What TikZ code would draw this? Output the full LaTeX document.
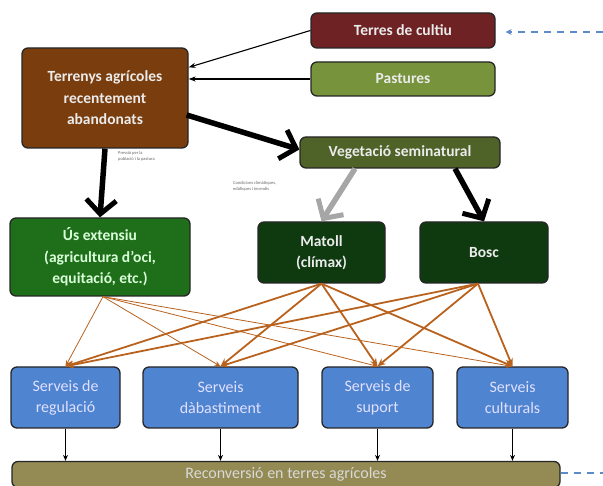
\documentclass[tikz,border=0pt]{standalone}
\usepackage{fontspec}
\setmainfont{Carlito}
\usetikzlibrary{arrows.meta,calc}
\definecolor{cultiu}{HTML}{6E2224}
\definecolor{pastura}{HTML}{77933C}
\definecolor{terreny}{HTML}{7A3E0E}
\definecolor{vegeta}{HTML}{4F6228}
\definecolor{usext}{HTML}{1F6E1A}
\definecolor{fosc}{HTML}{0F3A10}
\definecolor{servei}{HTML}{4F84D0}
\definecolor{recon}{HTML}{948A54}
\definecolor{marro}{HTML}{B8621E}
\definecolor{blaudash}{HTML}{5B8BC9}
\tikzset{
  box/.style={draw=black!85, line width=1.3pt, rounded corners=6pt, inner sep=0pt,
    align=center, text=white!92!black, font=\bfseries\fontsize{15.5}{21.5}\selectfont},
  svc/.style={box, fill=servei, font=\fontsize{16}{21}\selectfont, text=white!88!blue},
  thinarr/.style={-{Stealth[length=7pt,width=5pt]}, line width=1.1pt, black},
  heavy/.style={-{Straight Barb[length=14pt,width=30pt,line width=5pt]}, line width=5.5pt},
  brw/.style={-{Stealth[length=8pt,width=7pt]}, line width=1.8pt, marro},
  brwthin/.style={-{Stealth[length=6pt,width=5pt]}, line width=0.8pt, marro},
  downarr/.style={-{Stealth[length=6pt,width=5pt]}, line width=0.9pt, black},
  note/.style={font=\fontsize{4.5}{6}\selectfont, text=gray!80!black, align=left, inner sep=0pt},
  bluedash/.style={dashed, dash pattern=on 7pt off 6pt, line width=1.8pt, blaudash}
}
\begin{document}
\begin{tikzpicture}[x=1pt,y=-1pt]
\useasboundingbox (0,0) rectangle (603,486);
\node[box, fill=cultiu, minimum width=184pt, minimum height=35pt] (tc) at (403,30.5) {Terres de cultiu};
\node[box, fill=pastura, minimum width=184pt, minimum height=34pt] (pa) at (403,79) {Pastures};
\node[box, fill=terreny, minimum width=166pt, minimum height=100pt] (te) at (105,98) {Terrenys agrícoles\\recentement\\abandonats};
\node[box, fill=vegeta, minimum width=200pt, minimum height=31pt] (ve) at (400,152.5) {Vegetació seminatural};
\node[box, fill=usext, text=green!15!white, minimum width=180pt, minimum height=78pt] (us) at (100,257) {Ús extensiu\\(agricultura d’oci,\\equitació, etc.)};
\node[box, fill=fosc, minimum width=127pt, minimum height=61pt] (ma) at (321.5,252.5) {Matoll\\(clímax)};
\node[box, fill=fosc, minimum width=128pt, minimum height=61pt] (bo) at (484,252.5) {Bosc};
\node[svc, minimum width=109pt, minimum height=61pt] (s1) at (65.5,397.5) {Serveis de\\regulació};
\node[svc, minimum width=155pt, minimum height=61pt] (s2) at (220.5,397.5) {Serveis\\dàbastiment};
\node[svc, minimum width=111pt, minimum height=61pt] (s3) at (377.5,397.5) {Serveis de\\suport};
\node[svc, minimum width=111pt, minimum height=61pt] (s4) at (512.5,397.5) {Serveis\\culturals};
\node[box, fill=recon, font=\fontsize{16}{20}\selectfont, text=white!85!black, minimum width=548pt, minimum height=26pt] (re) at (286,474.5) {Reconversió en terres agrícoles};

\node[note, anchor=north west] (n1) at (118,151) {Pressió per la\\població i la pastura};
\node[note, anchor=north west] (n2) at (233,181) {Condicions climàtiques,\\edàfiques i incendis};

% top arrows
\draw[thinarr] (tc.west) -- ($(te.north east)+(0,20)$);
\draw[thinarr] (pa.west) -- (pa.west -| te.east);
\draw[heavy] ($(te.east)+(-2,17)$) -- ($(ve.west)+(0,-3)$);
\draw[heavy] (te.south) -- (us.north);
\draw[heavy, gray!70] ($(ve.south)+(-45,0)$) -- (ma.north);
\draw[heavy] ($(ve.south)+(55,0)$) -- (bo.north);

% brown arrows
\foreach \t in {s1,s2,s3,s4}{
  \draw[brwthin] ($(us.south)+(3,0)$) -- (\t.north);
  \draw[brw] (ma.south) -- (\t.north);
  \draw[brw] ($(bo.south)+(-6,0)$) -- (\t.north);
}

% down arrows
\foreach \t in {s1,s2,s3,s4}{
  \draw[downarr] (\t.south) -- (\t.south |- re.north);
}

% dashed blue
\coordinate (d1) at (603,32);
\coordinate (d2) at (603,473);
\draw[bluedash, -{Stealth[length=6pt,width=6pt]}] (d1) -- ($(tc.east)+(10,1.5)$);
\draw[bluedash] (re.east |- d2) -- (d2);
\end{tikzpicture}
\end{document}
